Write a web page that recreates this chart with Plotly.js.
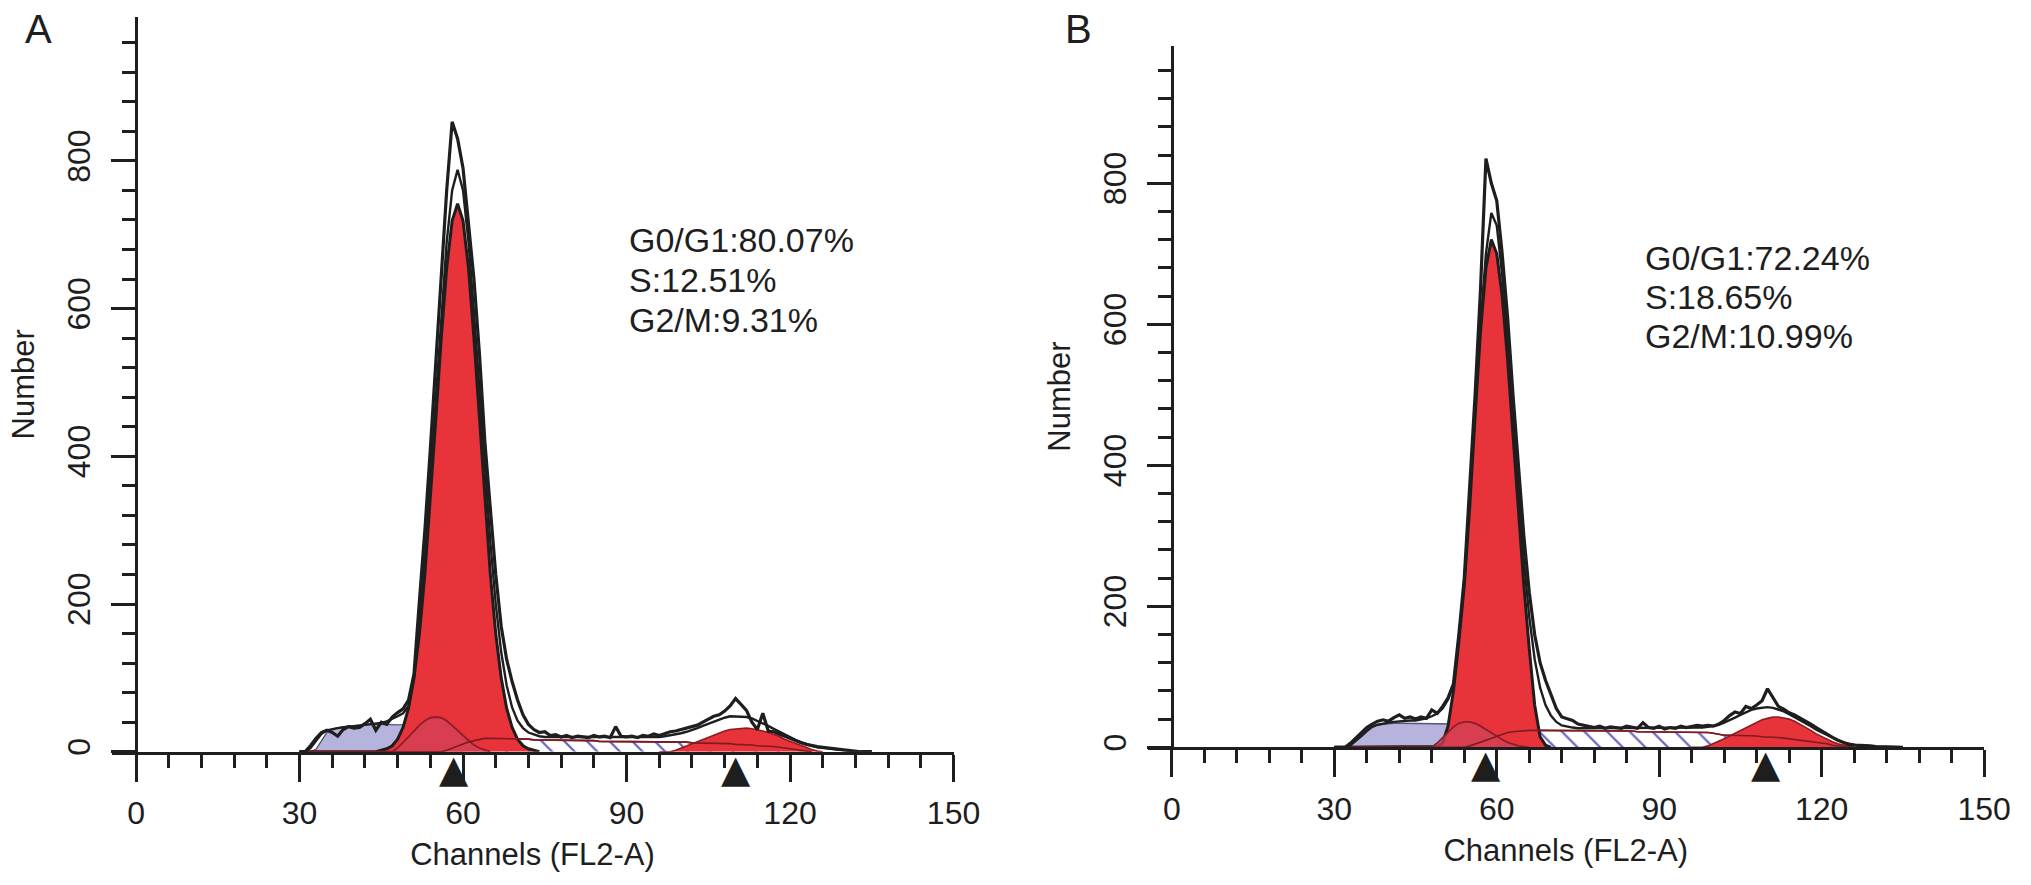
<!DOCTYPE html>
<html>
<head>
<meta charset="utf-8">
<script src="https://cdn.plot.ly/plotly-3.0.1.min.js"></script>
<style>
  html, body { margin: 0; padding: 0; background: #fff; }
  #gd { width: 2031px; height: 885px; }
</style>
</head>
<body>
<div id="gd"></div>
<script>
// histogram channels: most series start at channel 30, G2 peaks at channel 96
const firstChannel = 30;
const g2FirstChannel = 96;

// ---- panel A ----
const rawA = [0,0,8,18,26,29,26,21,30,34, 32,33,38,44,29,40,37,47,53,58,
  70,105,205,300,410,530,650,760,853,830, 790,720,640,540,420,330,240,170,125,95,
  70,50,37,30,26,27,22,23,20,22, 19,21,20,19,22,20,21,19,34,21,
  20,21,19,22,21,24,22,25,27,28, 30,31,33,36,40,44,48,50,55,62,
  72,64,56,40,30,52,28,27,24,20, 17,15,12,10,8,7,6,5,4,3, 2,2,1,0,0,0];
const fitA = [0,0,5,14,24,29,31,32,33,34, 35,35,36,37,38,39,41,44,48,52,
  62,100,175,265,370,480,590,690,760,788, 760,690,595,490,385,285,200,135,90,60,
  42,32,26,23,21,20,20,20,20,19, 19,19,19,19,19,19,19,19,19,19,
  19,19,19,19,20,20,20,21,22,23, 25,27,29,32,35,38,41,44,46,48,
  48,48,47,45,42,39,35,31,27,23, 19,16,13,10,8,6,5,4,3,2, 1,0,0,0,0,0];
const debrisA = [0,0,0,3,14,26,31,33,34,35, 35,36,36,37,37,37,37,37,37,37,
  37,37,36,33,28,22,15,8,3,0];
const g1A = [0,0,0,0,0,0,0,0,0,0, 0,0,0,0,0,2,4,8,17,33,
  59,100,160,241,340,450,560,655,719,742, 719,655,560,450,340,241,160,100,59,33,
  17,8,4,2,0];
const aggA = [0,0,0,0,0,0,0,0,0,0, 0,0,0,0,0,0,0,0,5,12,
  20,28,36,42,46,47,46,42,36,29, 22,15,9,5,2,0];
const sPhaseA = [0,0,0,0,0,0,0,0,0,0, 0,0,0,0,0,0,0,0,0,0,
  0,0,0,0,0,0,0,2,5,8, 11,13,15,17,18,18,18,18,17,17,
  17,17,17,16,16,16,16,16,16,15, 15,15,15,15,15,14,14,14,14,14,
  14,14,13,13,13,13,13,13,13,13, 13,13,12,12,12,12,12,11,11,11,
  10,10,9,9,8,8,7,7,6,5, 4,3,2,1,0];
const g2A = [0,0,0,2,5,8,11,14,17,20, 23,26,28,30,31,32,32,31,30,28,
  26,24,21,17,14,11,8,5,3,1, 0];
const meansA = [58.4, 110.1];
const statsA = ['G0/G1:80.07%', 'S:12.51%', 'G2/M:9.31%'];

// ---- panel B ----
const rawB = [0,0,0,6,13,21,28,33,37,39, 37,42,46,41,43,40,43,41,53,48,
  58,70,90,160,240,370,500,650,835,800, 775,700,610,500,395,300,220,160,120,95,
  75,55,43,40,38,33,31,29,28,30, 27,29,28,27,30,28,27,35,28,27,
  30,26,28,27,30,28,29,31,30,31, 30,33,38,45,50,48,58,55,60,66,
  83,70,58,54,49,46,42,38,33,28, 23,19,14,10,7,4,3,3,2,2, 1,1,1,0,0,0];
const fitB = [0,0,0,3,9,16,23,29,32,34, 35,36,37,37,38,38,39,41,44,48,
  55,68,88,155,235,350,475,600,700,758, 740,670,580,470,360,265,185,125,85,60,
  45,36,31,29,28,27,27,27,27,27, 27,27,27,27,27,27,27,27,27,27,
  27,27,27,27,27,27,27,28,28,29, 30,32,35,38,42,46,50,53,55,56,
  57,56,54,51,47,43,39,35,30,25, 21,17,13,10,7,5,3,2,1,1, 0,0,0,0,0,0];
const debrisB = [0,0,0,4,10,17,24,29,32,33, 34,34,34,34,34,34,34,34,34,34,
  34,34,33,30,25,18,10,4,0,0];
const g1B = [0,0,0,0,0,0,0,0,0,0, 0,0,0,0,0,0,0,0,0,1,
  6,30,80,150,230,340,470,590,680,720, 700,640,550,440,330,230,140,60,15,3, 0];
const aggB = [0,0,0,0,0,0,0,0,0,0, 0,0,0,0,0,0,0,0,0,6,
  14,22,29,34,36,36,34,30,25,20, 15,11,7,4,2,1,0];
const sPhaseB = [0,0,0,0,0,0,0,0,0,0, 0,0,0,0,0,0,0,0,0,0,
  0,0,0,0,0,2,4,7,10,13, 16,19,21,22,23,24,24,24,24,24,
  24,24,24,24,24,24,24,24,24,24, 23,23,23,23,23,23,22,22,22,22,
  22,22,21,21,21,21,21,21,21,21, 20,18,17,17,17,17,16,16,16,15,
  15,14,14,13,12,12,11,10,9,8, 6,5,3,2,1,0];
const g2B = [0,0,0,2,5,8,12,16,20,24, 28,32,36,39,41,43,43,42,40,37,
  33,29,24,19,15,11,8,5,3,1, 0];
const meansB = [58.1, 109.8];
const statsB = ['G0/G1:72.24%', 'S:18.65%', 'G2/M:10.99%'];

const xTicks = [0, 30, 60, 90, 120, 150];
const yTicks = [0, 200, 400, 600, 800];

const FONT = 'Liberation Sans, Arial, sans-serif';
const INK = '#1e1e1e';

function panelTraces(xa, ya, raw, fit, debris, g1, agg, sPhase, g2) {
  const common = { xaxis: xa, yaxis: ya, type: 'scatter', mode: 'lines',
                   hoverinfo: 'skip', showlegend: false };
  return [
    Object.assign({}, common, { y: debris, x0: firstChannel, dx: 1, fill: 'tozeroy',
      fillcolor: '#b6b4dc', line: { color: '#55557a', width: 1.4 } }),
    Object.assign({}, common, { y: sPhase, x0: firstChannel, dx: 1, fill: 'tozeroy',
      fillcolor: '#ffffff',
      fillpattern: { shape: '\\', fgcolor: '#6464c0', bgcolor: '#ffffff', size: 16, solidity: 0.14 },
      line: { color: '#7a1c22', width: 1.6 } }),
    Object.assign({}, common, { y: g1, x0: firstChannel, dx: 1, fill: 'tozeroy',
      fillcolor: '#e8333a', line: { color: INK, width: 3 } }),
    Object.assign({}, common, { y: agg, x0: firstChannel, dx: 1, fill: 'tozeroy',
      fillcolor: 'rgba(212,66,88,0.74)', line: { color: '#8c1d2a', width: 1.8 } }),
    Object.assign({}, common, { y: g2, x0: g2FirstChannel, dx: 1, fill: 'tozeroy',
      fillcolor: '#e8333a', line: { color: '#8c1d22', width: 1.6 } }),
    Object.assign({}, common, { y: sPhase, x0: firstChannel, dx: 1,
      line: { color: '#7a1c22', width: 1.6 } }),
    Object.assign({}, common, { y: fit, x0: firstChannel, dx: 1,
      line: { color: INK, width: 2.4 } }),
    Object.assign({}, common, { y: raw, x0: firstChannel, dx: 1,
      line: { color: INK, width: 3.2 } })
  ];
}

function xAxis(domain, anchor) {
  return {
    domain: domain, anchor: anchor, range: [-4.5, 150],
    showline: true, linecolor: INK, linewidth: 3,
    showgrid: false, zeroline: false,
    tickmode: 'array', tickvals: xTicks, ticktext: xTicks.map(String),
    ticks: 'outside', ticklen: 27, tickwidth: 3, tickcolor: INK,
    ticklabelstandoff: 4,
    minor: { dtick: 6, tick0: 0, ticks: 'outside', ticklen: 13, tickwidth: 3, tickcolor: INK },
    tickfont: { family: FONT, size: 32, color: INK },
    title: { text: 'Channels (FL2-A)', font: { family: FONT, size: 31, color: INK }, standoff: 14 },
    fixedrange: true
  };
}

function yAxis(domain, position) {
  return {
    domain: domain, anchor: 'free', position: position, range: [0, 995],
    showline: true, linecolor: INK, linewidth: 3,
    showgrid: false, zeroline: false,
    tickmode: 'array', tickvals: yTicks, ticktext: yTicks.map(String), tickangle: -90,
    ticks: 'outside', ticklen: 24, tickwidth: 3, tickcolor: INK,
    ticklabelstandoff: 8,
    minor: { dtick: 40, tick0: 0, ticks: 'outside', ticklen: 13, tickwidth: 3, tickcolor: INK },
    tickfont: { family: FONT, size: 32, color: INK },
    title: { text: 'Number', font: { family: FONT, size: 31, color: INK }, standoff: 16 },
    fixedrange: true
  };
}

function statNotes(lines, x, yTop, step) {
  return lines.map((t, i) => ({
    xref: 'paper', yref: 'paper', x: x, y: yTop - i * step,
    xanchor: 'left', yanchor: 'middle', showarrow: false, text: t,
    font: { family: FONT, size: 34, color: INK }
  }));
}

function meanMarks(means, xa, ya) {
  return means.map(m => ({
    xref: xa, yref: ya, x: m, y: 0, xanchor: 'center', yanchor: 'top',
    showarrow: false, text: '\u25B2', yshift: 7,
    font: { family: 'DejaVu Sans', size: 38, color: INK }
  }));
}

const data = []
  .concat(panelTraces('x', 'y', rawA, fitA, debrisA, g1A, aggA, sPhaseA, g2A))
  .concat(panelTraces('x2', 'y2', rawB, fitB, debrisB, g1B, aggB, sPhaseB, g2B));

const layout = {
  width: 2031, height: 885, autosize: false,
  margin: { l: 0, r: 0, t: 0, b: 0 },
  paper_bgcolor: '#ffffff', plot_bgcolor: 'rgba(0,0,0,0)',
  showlegend: false,
  xaxis: xAxis([0.0549, 0.4695], 'y'),
  yaxis: yAxis([0.1506, 0.9809], 0.0670),
  xaxis2: xAxis([0.5650, 0.9769], 'y2'),
  yaxis2: yAxis([0.1556, 0.9483], 0.5771),
  annotations: [
    { xref: 'paper', yref: 'paper', x: 0.0192, y: 0.967, xanchor: 'center', yanchor: 'middle',
      showarrow: false, text: 'A', font: { family: FONT, size: 40, color: INK } },
    { xref: 'paper', yref: 'paper', x: 0.5308, y: 0.967, xanchor: 'center', yanchor: 'middle',
      showarrow: false, text: 'B', font: { family: FONT, size: 40, color: INK } }
  ]
  .concat(statNotes(statsA, 0.3087, 0.7288, 0.0452))
  .concat(statNotes(statsB, 0.8090, 0.7085, 0.0441))
  .concat(meanMarks(meansA, 'x', 'y'))
  .concat(meanMarks(meansB, 'x2', 'y2'))
};

Plotly.newPlot('gd', data, layout, { displayModeBar: false, staticPlot: true });
</script>
</body>
</html>
